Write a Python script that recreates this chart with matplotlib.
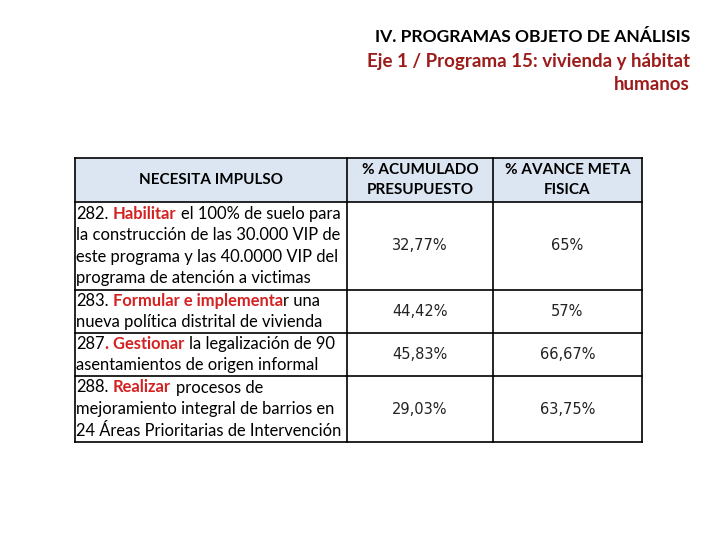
import matplotlib
matplotlib.use('Agg')
import matplotlib.pyplot as plt

# --- data ---
title_main = 'IV. PROGRAMAS OBJETO DE ANÁLISIS'
title_sub = ['Eje 1 / Programa 15: vivienda y hábitat', 'humanos']

header_left = 'NECESITA IMPULSO'
header_pres = ['% ACUMULADO', 'PRESUPUESTO']
header_meta = ['% AVANCE META', 'FISICA']

# each row: list of lines, each line a list of (text, red?)
goals = [
    [[('282. ', False), ('Habilitar', True), (' el 100% de suelo para', False)],
     [('la construcción de las 30.000 VIP de', False)],
     [('este programa y las 40.0000 VIP del', False)],
     [('programa de atención a victimas', False)]],
    [[('283. ', False), ('Formular e implementa', True), ('r una', False)],
     [('nueva política distrital de vivienda', False)]],
    [[('287', False), ('. Gestionar', True), (' la legalización de 90', False)],
     [('asentamientos de origen informal', False)]],
    [[('288. ', False), ('Realizar', True), (' procesos de', False)],
     [('mejoramiento integral de barrios en', False)],
     [('24 Áreas Prioritarias de Intervención', False)]],
]
pres = ['32,77%', '44,42%', '45,83%', '29,03%']
meta = ['65%', '57%', '66,67%', '63,75%']

# --- layout (pixels) ---
row_edges = [202, 290, 333, 376, 442]
head_top = 158
x_left, x_mid1, x_mid2, x_right = 75, 347, 493, 642
line_h = 21.5
hdr_fill = '#dce6f2'
dark_red = '#9c1c1c'
verb_red = '#d42222'
body_font = 'Lato'

fig = plt.figure(figsize=(7.2, 5.4), dpi=100)
ax = fig.add_axes([0, 0, 1, 1])
ax.set_xlim(0, 720)
ax.set_ylim(540, 0)
ax.axis('off')

# titles
ax.text(690, 37, title_main, ha='right', va='center', fontsize=12.6,
        family=body_font, fontweight='bold', color='black')
for i, s in enumerate(title_sub):
    ax.text(690, 61 + i * 24, s, ha='right', va='center', fontsize=13.5,
            family=body_font, fontweight='bold', color=dark_red)

# header fills
ax.fill_between([x_left, x_mid1], head_top, row_edges[0], color=hdr_fill, lw=0)
ax.fill_between([x_mid1, x_right], head_top, row_edges[0], color=hdr_fill, lw=0)

# grid lines
lw = 1.2
for y in [head_top] + row_edges:
    ax.plot([x_left, x_right], [y, y], color='black', lw=lw)
for x in [x_left, x_mid1, x_mid2, x_right]:
    ax.plot([x, x], [head_top, row_edges[-1]], color='black', lw=lw)

# headers
hy = (head_top + row_edges[0]) / 2
ax.text((x_left + x_mid1) / 2, hy, header_left, ha='center', va='center',
        fontsize=11, family=body_font, fontweight='bold')
for i, s in enumerate(header_pres):
    ax.text((x_mid1 + x_mid2) / 2, hy - 9.5 + i * 19, s, ha='center', va='center',
            fontsize=11, family=body_font, fontweight='bold')
for i, s in enumerate(header_meta):
    ax.text((x_mid2 + x_right) / 2, hy - 9.5 + i * 19, s, ha='center', va='center',
            fontsize=11, family=body_font, fontweight='bold')

renderer = fig.canvas.get_renderer()


def width_of(t):
    return t.get_window_extent(renderer).width


def space_w(**kw):
    a = ax.text(0, 0, 'x x', **kw)
    b = ax.text(0, 0, 'xx', **kw)
    w = width_of(a) - width_of(b)
    a.remove()
    b.remove()
    return w


body_kw = dict(fontsize=11.9, family=body_font, va='center', ha='left')
sp = space_w(**body_kw)

# left column text
for r, lines in enumerate(goals):
    top, bot = row_edges[r], row_edges[r + 1]
    y0 = (top + bot) / 2 - (len(lines) - 1) * line_h / 2
    for j, parts in enumerate(lines):
        y = y0 + j * line_h
        x = x_left + 1.5
        for text, red in parts:
            lead = len(text) - len(text.lstrip(' '))
            trail = len(text) - len(text.rstrip(' '))
            x += lead * sp
            core = text.strip(' ')
            t = ax.text(x, y, core, color=verb_red if red else 'black',
                        fontweight='bold' if red else 'normal', **body_kw)
            x += width_of(t) + trail * sp

# numbers
for r in range(len(pres)):
    y = (row_edges[r] + row_edges[r + 1]) / 2
    ax.text((x_mid1 + x_mid2) / 2, y, pres[r], ha='center', va='center',
            fontsize=10.5, family='DejaVu Sans', color='#222222')
    ax.text((x_mid2 + x_right) / 2, y, meta[r], ha='center', va='center',
            fontsize=10.5, family='DejaVu Sans', color='#222222')

fig.savefig('out.png', dpi=100)
